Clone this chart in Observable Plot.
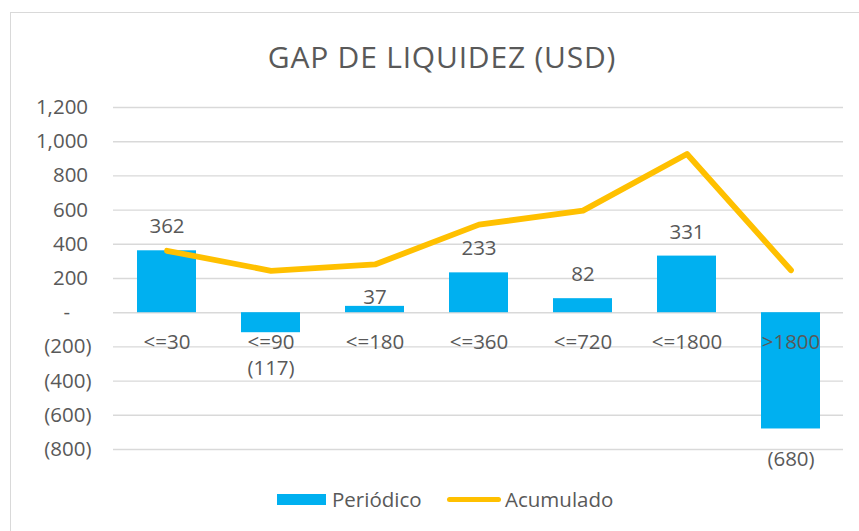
<!DOCTYPE html>
<html>
<head>
<meta charset="utf-8">
<script src="https://cdn.jsdelivr.net/npm/d3@7"></script>
<script src="https://cdn.jsdelivr.net/npm/@observablehq/plot@0.6"></script>
<style>
  html, body { margin: 0; padding: 0; background: #fff; }
  body { width: 859px; height: 531px; position: relative; overflow: hidden; font-family: "Open Sans", "Noto Sans", sans-serif; color: #595959; }
  #frame { position: absolute; left: 10px; top: 12px; width: 900px; height: 600px; border: 1.5px solid #d9d9d9; box-sizing: border-box; }
  #title { position: absolute; left: 0; width: 884px; top: 36px; text-align: center; font-size: 30px; letter-spacing: 0.8px; line-height: 42px; color: #595959; }
  #chart { position: absolute; left: 0; top: 90px; }
  #legend { position: absolute; left: 0; top: 484px; width: 859px; height: 30px; }
  .lg { position: absolute; font-size: 20.5px; line-height: 30px; color: #595959; }
</style>
</head>
<body>
<div id="frame"></div>
<div id="title">GAP DE LIQUIDEZ (USD)</div>
<div id="chart"></div>
<div id="legend">
  <div style="position:absolute;left:277px;top:10px;width:49px;height:11px;background:#00B0F0"></div>
  <div class="lg" style="left:332px;top:0">Periódico</div>
  <div style="position:absolute;left:447px;top:13px;width:54px;height:5px;background:#FFC000;border-radius:3px"></div>
  <div class="lg" style="left:505px;top:0">Acumulado</div>
</div>
<script>
const categories = ["<=30", "<=90", "<=180", "<=360", "<=720", "<=1800", ">1800"];
const periodico = [362, -117, 37, 233, 82, 331, -680];
const acumulado = [362, 245, 282, 515, 597, 928, 248];
const yTicks = [-800, -600, -400, -200, 0, 200, 400, 600, 800, 1000, 1200];

const data = categories.map((c, i) => ({cat: c, per: periodico[i], acc: acumulado[i]}));

const fmt = d3.format(",");
const acct = d => d === 0 ? "-\u00a0\u00a0\u00a0\u00a0" : d < 0 ? `(${fmt(-d)})` : `${fmt(d)}\u2009`;
const labelFmt = d => d < 0 ? `(${fmt(-d)})` : fmt(d);

const gray = "#595959";
const fs = 20.5;

// value labels: default outside end above bar; a few moved like in the original
const valueLabel = (filter, dy) => Plot.text(data, {
  filter, x: "cat", y: "per", text: d => labelFmt(d.per), fontSize: fs, fill: gray, dy
});

const plot = Plot.plot({
  width: 859,
  height: 385,
  marginLeft: 113,
  marginRight: 16,
  marginTop: 17,
  marginBottom: 26,
  style: {fontFamily: "'Open Sans', 'Noto Sans', sans-serif", color: gray, background: "transparent", overflow: "visible"},
  x: {domain: categories, paddingInner: 0.434, paddingOuter: 0.21, axis: null},
  y: {domain: [-800, 1200], axis: null},
  marks: [
    Plot.gridY(yTicks, {stroke: "#d9d9d9", strokeOpacity: 1, strokeWidth: 1.4}),
    Plot.axisY(yTicks, {tickSize: 0, tickPadding: 22, tickFormat: acct, fontSize: fs, fill: gray}),
    Plot.barY(data, {x: "cat", y: "per", fill: "#00B0F0"}),
    Plot.line(data, {x: "cat", y: "acc", stroke: "#FFC000", strokeWidth: 5.8, strokeLinecap: "round", strokeLinejoin: "round"}),
    Plot.text(data, {x: "cat", y: () => 0, dy: 30, text: "cat", fontSize: fs, fill: gray}),
    valueLabel(d => d.per > 0 && d.cat !== "<=180", -24),
    valueLabel(d => d.cat === "<=180", -9),
    valueLabel(d => d.cat === "<=90", 36),
    valueLabel(d => d.cat === ">1800", 30)
  ]
});

document.getElementById("chart").append(plot);
</script>
</body>
</html>
